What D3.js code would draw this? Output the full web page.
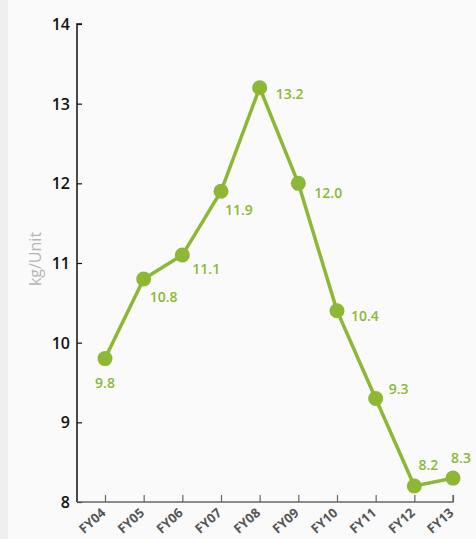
<!DOCTYPE html>
<html>
<head>
<meta charset="utf-8">
<script src="https://cdn.jsdelivr.net/npm/d3@7/dist/d3.min.js"></script>
<style>
  html, body { margin: 0; padding: 0; background: #fafafa; }
  svg { display: block; }
</style>
</head>
<body>
<script>
// Weight per unit by fiscal year
const years = ["FY04", "FY05", "FY06", "FY07", "FY08", "FY09", "FY10", "FY11", "FY12", "FY13"];
const values = [9.8, 10.8, 11.1, 11.9, 13.2, 12.0, 10.4, 9.3, 8.2, 8.3];
const yTicks = [8, 9, 10, 11, 12, 13, 14];
// label placement relative to each point: [dx, dy, anchor]
const labelPos = [
  [0, 29, "middle"], [6, 23, "start"], [10, 19, "start"], [4, 24, "start"],
  [16, 11, "start"], [16, 15, "start"], [14, 10, "start"], [13, -4, "start"],
  [14, -16, "middle"], [8, -15, "middle"]
];

const W = 476, H = 539;
const green = "#8cb835";
const font = "'Open Sans', 'DejaVu Sans', sans-serif";

const svg = d3.select("body").append("svg").attr("width", W).attr("height", H);

svg.append("rect").attr("width", W).attr("height", H).attr("fill", "#fafafa");
svg.append("rect").attr("width", 8).attr("height", H).attr("fill", "#efefef");

const x = d3.scalePoint().domain(years).range([105, 453]);
const y = d3.scaleLinear().domain([8, 14]).range([502, 24]);

// y axis
const yAxis = svg.append("g").attr("transform", "translate(77,0)")
  .call(d3.axisRight(y).tickValues(yTicks).tickSize(5).tickFormat(d3.format("d")));
yAxis.select(".domain").attr("stroke", "#111").attr("stroke-width", 1.5)
  .attr("d", `M5,${y(14)}H0V${y(8)}`);
yAxis.selectAll(".tick line").attr("stroke", "#111").attr("stroke-width", 1.2);
yAxis.selectAll(".tick text")
  .attr("x", -7).attr("text-anchor", "end").attr("dy", "0.35em")
  .attr("fill", "#111").attr("font-family", font).attr("font-size", 16).attr("font-weight", 600);

// x axis
const xAxis = svg.append("g").attr("transform", `translate(0,${y(8)})`)
  .call(d3.axisTop(x).tickSize(7).tickFormat(""));
xAxis.select(".domain").attr("stroke", "#666").attr("stroke-width", 1.3)
  .attr("d", `M77,0H${x("FY13")}V-7`);
xAxis.selectAll(".tick line").attr("stroke", "#666").attr("stroke-width", 1.2);
xAxis.selectAll(".tick").append("text")
  .text(d => d)
  .attr("transform", "translate(1,12) rotate(-42)")
  .attr("text-anchor", "end")
  .attr("fill", "#555")
  .attr("font-family", font).attr("font-size", 13).attr("font-weight", 700);

// y axis title
svg.append("text")
  .attr("transform", `translate(41,259) rotate(-90)`)
  .attr("text-anchor", "middle")
  .attr("fill", "#b5b5b5")
  .attr("font-family", font).attr("font-size", 16)
  .text("kg/Unit");

// line and points
const data = years.map((yr, i) => ({ yr, v: values[i], pos: labelPos[i] }));
svg.append("path").datum(data)
  .attr("fill", "none").attr("stroke", green).attr("stroke-width", 3.5)
  .attr("stroke-linejoin", "round")
  .attr("d", d3.line().x(d => x(d.yr)).y(d => y(d.v)));

svg.selectAll("circle.pt").data(data).join("circle")
  .attr("class", "pt")
  .attr("cx", d => x(d.yr)).attr("cy", d => y(d.v)).attr("r", 7.5)
  .attr("fill", green);

svg.selectAll("text.lbl").data(data).join("text")
  .attr("class", "lbl")
  .attr("x", d => x(d.yr) + d.pos[0])
  .attr("y", d => y(d.v) + d.pos[1])
  .attr("text-anchor", d => d.pos[2])
  .attr("fill", green)
  .attr("font-family", font).attr("font-size", 14).attr("font-weight", 600)
  .text(d => d3.format(".1f")(d.v));
</script>
</body>
</html>
